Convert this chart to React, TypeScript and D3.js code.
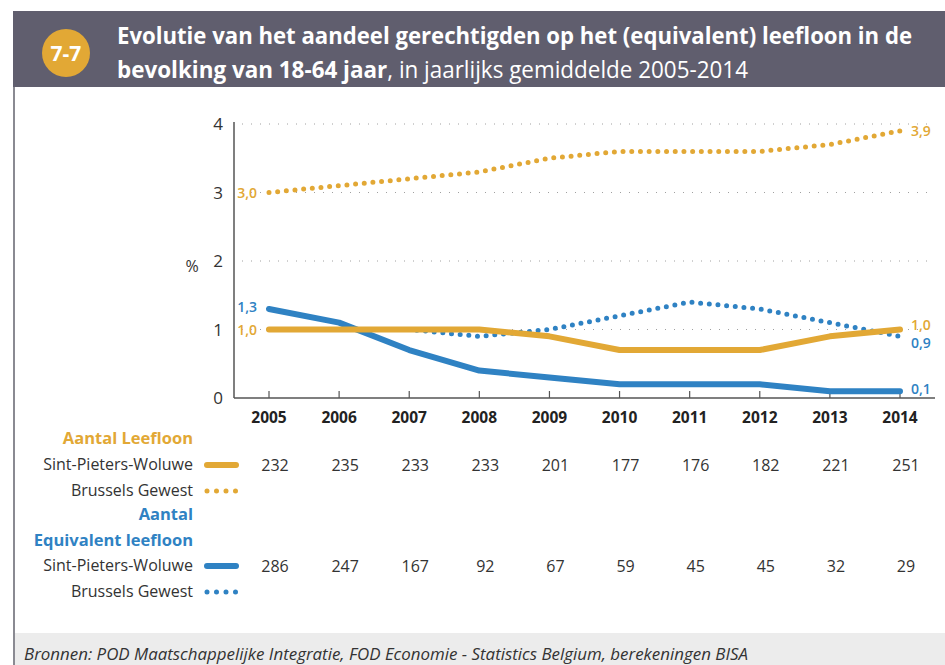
import React from "react";
import * as d3 from "d3";

const years = [2005, 2006, 2007, 2008, 2009, 2010, 2011, 2012, 2013, 2014];
const leefloonSPW = [1.0, 1.0, 1.0, 1.0, 0.9, 0.7, 0.7, 0.7, 0.9, 1.0];
const leefloonBXL = [3.0, 3.1, 3.2, 3.3, 3.5, 3.6, 3.6, 3.6, 3.7, 3.9];
const equivSPW = [1.3, 1.1, 0.7, 0.4, 0.3, 0.2, 0.2, 0.2, 0.1, 0.1];
const equivBXL = [1.0, 1.0, 1.0, 0.9, 1.0, 1.2, 1.4, 1.3, 1.1, 0.9];
const countLeefloonSPW = [232, 235, 233, 233, 201, 177, 176, 182, 221, 251];
const countEquivSPW = [286, 247, 167, 92, 67, 59, 45, 45, 32, 29];
const yTicks = [0, 1, 2, 3, 4];

const GOLD = "#E2A835";
const BLUE = "#2F82C3";
const TXT = "#333333";
const FONT = "'Open Sans', 'Noto Sans', sans-serif";

const fmt = (v: number) => v.toFixed(1).replace(".", ",");

export default function App() {
  const x = d3.scalePoint<number>().domain(years).range([269, 900]);
  const y = d3.scaleLinear().domain([0, 4]).range([398, 124]);
  const line = d3
    .line<number>()
    .x((_, i) => x(years[i]) as number)
    .y((d) => y(d));

  const axisLeft = 234;
  const axisRight = 935;

  return (
    <svg
      width={945}
      height={665}
      style={{ position: "absolute", left: 0, top: 0, background: "#fff" }}
      fontFamily={FONT}
    >
      {/* header */}
      <rect x={13} y={11} width={932} height={76} fill="#605E6E" />
      <circle cx={66} cy={53} r={24} fill={GOLD} />
      <text x={66} y={61} textAnchor="middle" fill="#fff" fontSize={21} fontWeight={700}>
        7-7
      </text>
      <text x={117} y={44} fill="#fff" fontSize={24} fontWeight={700} textLength={795} lengthAdjust="spacingAndGlyphs">
        Evolutie van het aandeel gerechtigden op het (equivalent) leefloon in de
      </text>
      <text x={117} y={78} fill="#fff" fontSize={24} textLength={631} lengthAdjust="spacingAndGlyphs">
        <tspan fontWeight={700}>bevolking van 18-64 jaar</tspan>
        <tspan>, in jaarlijks gemiddelde 2005-2014</tspan>
      </text>

      {/* left border */}
      <line x1={14} y1={87} x2={14} y2={665} stroke="#8A8A92" strokeWidth={2} />

      {/* footer */}
      <rect x={15} y={633} width={930} height={32} fill="#ECECEC" />
      <text x={24} y={660} fill={TXT} fontSize={17} fontStyle="italic" textLength={724} lengthAdjust="spacingAndGlyphs">
        Bronnen: POD Maatschappelijke Integratie, FOD Economie - Statistics Belgium, berekeningen BISA
      </text>

      {/* gridlines */}
      {yTicks
        .filter((t) => t > 0)
        .map((t) => (
          <line
            key={"g" + t}
            x1={axisLeft + 8}
            x2={axisRight}
            y1={y(t)}
            y2={y(t)}
            stroke="#A0A0A0"
            strokeWidth={1}
            strokeDasharray="1 8"
          />
        ))}

      {/* y tick labels */}
      {yTicks.map((t) => (
        <text key={"yt" + t} x={223} y={y(t) + 6} textAnchor="end" fill={TXT} fontSize={17}>
          {t}
        </text>
      ))}
      <text x={192} y={272} textAnchor="middle" fill={TXT} fontSize={16}>
        %
      </text>

      {/* axes */}
      <line x1={axisLeft} x2={axisLeft} y1={122} y2={398} stroke="#555" strokeWidth={1.5} />
      <line x1={axisLeft} x2={axisRight} y1={398} y2={398} stroke="#555" strokeWidth={1.5} />
      {years.map((yr) => (
        <line key={"tk" + yr} x1={x(yr)} x2={x(yr)} y1={398} y2={391} stroke="#555" strokeWidth={1.2} />
      ))}
      {years.map((yr) => (
        <text key={"yl" + yr} x={x(yr)} y={423} textAnchor="middle" fill="#222" fontSize={15.5} fontWeight={700}>
          {yr}
        </text>
      ))}

      {/* lines */}
      <path d={line(leefloonBXL) || ""} fill="none" stroke={GOLD} strokeWidth={5} strokeLinecap="round" strokeDasharray="0 8.7" />
      <path d={line(equivBXL) || ""} fill="none" stroke={BLUE} strokeWidth={5} strokeLinecap="round" strokeDasharray="0 8.7" />
      <path d={line(equivSPW) || ""} fill="none" stroke={BLUE} strokeWidth={6} strokeLinecap="round" strokeLinejoin="round" />
      <path d={line(leefloonSPW) || ""} fill="none" stroke={GOLD} strokeWidth={6} strokeLinecap="round" strokeLinejoin="round" />

      {/* value labels */}
      <g fontSize={14} fontWeight={600}>
        <text x={257} y={y(leefloonBXL[0]) + 5} textAnchor="end" fill={GOLD}>{fmt(leefloonBXL[0])}</text>
        <text x={257} y={y(equivSPW[0]) + 3} textAnchor="end" fill={BLUE}>{fmt(equivSPW[0])}</text>
        <text x={257} y={y(leefloonSPW[0]) + 5} textAnchor="end" fill={GOLD}>{fmt(leefloonSPW[0])}</text>
        <text x={911} y={y(leefloonBXL[9]) + 5} fill={GOLD}>{fmt(leefloonBXL[9])}</text>
        <text x={911} y={y(leefloonSPW[9])} fill={GOLD}>{fmt(leefloonSPW[9])}</text>
        <text x={911} y={y(equivBXL[9]) + 12} fill={BLUE}>{fmt(equivBXL[9])}</text>
        <text x={911} y={y(equivSPW[9]) + 3} fill={BLUE}>{fmt(equivSPW[9])}</text>
      </g>

      {/* table */}
      <g fontSize={16}>
        <text x={193} y={444} textAnchor="end" fill={GOLD} fontWeight={700} fontSize={16.5}>Aantal Leefloon</text>
        <text x={193} y={470} textAnchor="end" fill={TXT}>Sint-Pieters-Woluwe</text>
        <text x={193} y={496} textAnchor="end" fill={TXT}>Brussels Gewest</text>
        <text x={193} y={520} textAnchor="end" fill={BLUE} fontWeight={700} fontSize={16.5}>Aantal</text>
        <text x={193} y={546} textAnchor="end" fill={BLUE} fontWeight={700} fontSize={16.5}>Equivalent leefloon</text>
        <text x={193} y={571} textAnchor="end" fill={TXT}>Sint-Pieters-Woluwe</text>
        <text x={193} y={597} textAnchor="end" fill={TXT}>Brussels Gewest</text>

        <line x1={207} x2={236} y1={465} y2={465} stroke={GOLD} strokeWidth={6} strokeLinecap="round" />
        <line x1={207} x2={237} y1={491} y2={491} stroke={GOLD} strokeWidth={5} strokeLinecap="round" strokeDasharray="0 9.5" />
        <line x1={207} x2={236} y1={566} y2={566} stroke={BLUE} strokeWidth={6} strokeLinecap="round" />
        <line x1={207} x2={237} y1={592} y2={592} stroke={BLUE} strokeWidth={5} strokeLinecap="round" strokeDasharray="0 9.5" />

        {countLeefloonSPW.map((v, i) => (
          <text key={"cl" + i} x={(x(years[i]) as number) + 6} y={471} textAnchor="middle" fill={TXT}>
            {v}
          </text>
        ))}
        {countEquivSPW.map((v, i) => (
          <text key={"ce" + i} x={(x(years[i]) as number) + 6} y={572} textAnchor="middle" fill={TXT}>
            {v}
          </text>
        ))}
      </g>
    </svg>
  );
}
